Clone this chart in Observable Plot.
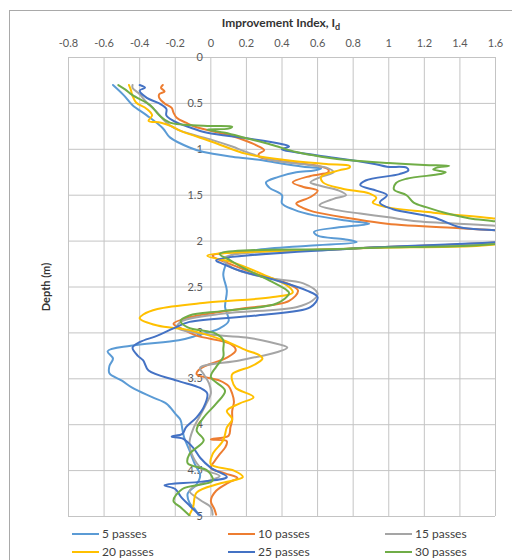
<!DOCTYPE html>
<html><head><meta charset="utf-8">
<script src="https://cdn.jsdelivr.net/npm/d3@7"></script>
<script src="https://cdn.jsdelivr.net/npm/@observablehq/plot@0.6"></script>
<style>
body{margin:0;background:#fff;font-family:Lato,"Open Sans",sans-serif;}
#wrap{position:relative;width:512px;height:560px;overflow:hidden;background:#fff;}
#frame{position:absolute;left:9px;top:10px;width:600px;height:600px;border:1px solid #a9a9a9;box-sizing:border-box;}
#chart{position:absolute;left:0;top:0;}
.leg{position:absolute;font-size:12px;color:#404040;height:14px;line-height:14px;white-space:nowrap;}
.sw{position:absolute;top:6px;width:27px;height:2px;}
</style></head>
<body><div id="wrap"><div id="frame"></div><div id="chart"></div><div id="legend"></div></div>
<script>
const seriesNames = ["5 passes","10 passes","15 passes","20 passes","25 passes","30 passes"];
const seriesColors = ["#5B9BD5","#ED7D31","#A5A5A5","#FFC000","#4472C4","#70AD47"];
const xTicks = [-0.8,-0.6,-0.4,-0.2,0,0.2,0.4,0.6,0.8,1,1.2,1.4,1.6];
const yTicks = [0,0.5,1,1.5,2,2.5,3,3.5,4,4.5,5];

// [depth (m), improvement index]
const pass5 = [[0.30,-0.55],[0.41,-0.49],[0.52,-0.44],[0.63,-0.36],[0.77,-0.27],[0.87,-0.23],[0.98,-0.12],[1.03,-0.04],[1.08,0.12],[1.12,0.29],[1.15,0.38],[1.19,0.52],[1.21,0.62],[1.23,0.58],[1.25,0.48],[1.30,0.38],[1.36,0.31],[1.42,0.33],[1.50,0.40],[1.59,0.40],[1.66,0.47],[1.72,0.58],[1.78,0.78],[1.81,0.89],[1.85,0.72],[1.90,0.58],[1.94,0.60],[1.98,0.75],[2.01,0.82],[2.05,0.55],[2.10,0.25],[2.16,0.11],[2.23,0.09],[2.36,0.07],[2.54,0.09],[2.72,0.08],[2.87,0.10],[2.95,0.05],[3.03,-0.08],[3.08,-0.18],[3.14,-0.45],[3.20,-0.58],[3.28,-0.55],[3.36,-0.57],[3.44,-0.57],[3.52,-0.50],[3.60,-0.44],[3.70,-0.33],[3.77,-0.25],[3.88,-0.20],[3.95,-0.17],[4.05,-0.16],[4.14,-0.15],[4.28,-0.12],[4.43,-0.09],[4.55,-0.06],[4.65,-0.08],[4.75,-0.13],[4.85,-0.12],[4.92,-0.09],[4.98,-0.07]];
const pass10 = [[0.30,-0.27],[0.33,-0.28],[0.37,-0.26],[0.40,-0.29],[0.44,-0.29],[0.50,-0.26],[0.55,-0.22],[0.60,-0.21],[0.66,-0.19],[0.71,-0.14],[0.76,-0.08],[0.85,0.11],[0.91,0.20],[0.96,0.26],[1.01,0.30],[1.05,0.27],[1.08,0.27],[1.13,0.40],[1.18,0.60],[1.22,0.66],[1.25,0.66],[1.29,0.56],[1.36,0.46],[1.41,0.52],[1.45,0.60],[1.52,0.56],[1.59,0.48],[1.64,0.52],[1.69,0.60],[1.75,0.78],[1.81,0.99],[1.86,1.40],[1.88,1.58],[1.92,1.90],[1.99,1.75],[2.08,0.80],[2.16,0.01],[2.25,0.11],[2.36,0.26],[2.46,0.43],[2.54,0.49],[2.65,0.44],[2.74,0.16],[2.83,-0.12],[2.90,-0.21],[2.96,-0.16],[3.03,-0.08],[3.12,0.11],[3.19,0.14],[3.27,0.09],[3.39,-0.06],[3.45,-0.08],[3.52,0.05],[3.58,0.10],[3.66,0.12],[3.75,0.13],[3.85,0.12],[3.95,0.12],[4.03,0.11],[4.12,0.10],[4.16,0.00],[4.18,0.09],[4.25,0.08],[4.32,0.05],[4.40,0.02],[4.47,0.00],[4.53,0.08],[4.58,0.15],[4.63,0.10],[4.72,0.03],[4.83,0.00],[4.92,0.02],[4.98,0.03]];
const pass15 = [[0.30,-0.44],[0.33,-0.44],[0.40,-0.40],[0.49,-0.36],[0.60,-0.30],[0.67,-0.27],[0.74,-0.23],[0.80,-0.17],[0.90,0.01],[0.97,0.12],[1.03,0.20],[1.12,0.35],[1.17,0.55],[1.20,0.65],[1.25,0.69],[1.30,0.62],[1.36,0.56],[1.40,0.62],[1.45,0.72],[1.50,0.76],[1.54,0.69],[1.61,0.61],[1.66,0.70],[1.70,0.84],[1.74,1.00],[1.78,1.14],[1.83,1.58],[1.88,1.90],[1.99,1.75],[2.08,0.80],[2.19,0.07],[2.29,0.12],[2.40,0.31],[2.46,0.52],[2.57,0.60],[2.65,0.57],[2.72,0.48],[2.79,0.07],[2.87,-0.16],[2.94,-0.19],[3.01,-0.05],[3.05,0.20],[3.10,0.33],[3.16,0.43],[3.21,0.37],[3.30,0.16],[3.38,-0.06],[3.45,-0.04],[3.55,-0.01],[3.66,0.00],[3.75,-0.02],[3.90,-0.06],[4.05,-0.10],[4.20,-0.12],[4.35,-0.10],[4.48,-0.05],[4.56,0.05],[4.63,-0.04],[4.72,-0.12],[4.82,-0.06],[4.90,0.00],[4.98,0.01]];
const pass20 = [[0.30,-0.46],[0.35,-0.45],[0.42,-0.44],[0.49,-0.42],[0.56,-0.36],[0.63,-0.33],[0.69,-0.35],[0.71,-0.28],[0.75,-0.22],[0.80,-0.17],[0.92,0.01],[1.05,0.20],[1.12,0.43],[1.16,0.65],[1.18,0.78],[1.20,0.78],[1.23,0.72],[1.30,0.62],[1.36,0.63],[1.43,0.74],[1.48,0.89],[1.53,0.93],[1.58,0.91],[1.63,0.99],[1.69,1.25],[1.75,1.58],[1.82,1.90],[1.99,1.75],[2.08,0.80],[2.16,-0.02],[2.23,0.12],[2.36,0.29],[2.50,0.44],[2.56,0.46],[2.61,0.35],[2.67,-0.02],[2.74,-0.30],[2.80,-0.38],[2.84,-0.40],[2.92,-0.30],[2.97,-0.12],[3.08,0.07],[3.19,0.20],[3.24,0.27],[3.28,0.29],[3.33,0.26],[3.37,0.22],[3.45,0.12],[3.52,0.12],[3.60,0.14],[3.70,0.24],[3.77,0.16],[3.85,0.09],[3.94,0.12],[4.03,0.09],[4.17,0.07],[4.32,0.01],[4.43,0.00],[4.50,0.13],[4.57,0.18],[4.64,0.05],[4.74,-0.08],[4.90,-0.10],[4.98,-0.12]];
const pass25 = [[0.30,-0.40],[0.33,-0.37],[0.36,-0.40],[0.44,-0.36],[0.50,-0.29],[0.56,-0.25],[0.63,-0.25],[0.69,-0.21],[0.76,-0.12],[0.82,-0.02],[0.88,0.20],[0.94,0.39],[0.97,0.44],[1.00,0.40],[1.03,0.47],[1.10,0.72],[1.16,0.92],[1.19,0.99],[1.20,1.10],[1.23,1.11],[1.27,1.06],[1.34,0.87],[1.39,0.84],[1.45,0.93],[1.50,0.99],[1.58,0.95],[1.65,1.02],[1.74,1.25],[1.85,1.40],[1.88,1.58],[1.93,1.90],[1.99,1.75],[2.08,0.80],[2.21,0.03],[2.25,0.07],[2.32,0.16],[2.43,0.37],[2.54,0.54],[2.61,0.60],[2.72,0.56],[2.81,0.26],[2.88,-0.12],[2.95,-0.21],[3.03,-0.30],[3.10,-0.40],[3.16,-0.44],[3.25,-0.41],[3.30,-0.38],[3.41,-0.35],[3.52,-0.19],[3.60,-0.06],[3.66,-0.02],[3.81,-0.04],[3.92,-0.08],[4.03,-0.14],[4.10,-0.16],[4.13,-0.22],[4.15,-0.16],[4.25,-0.10],[4.36,-0.06],[4.47,0.00],[4.57,0.09],[4.62,-0.05],[4.66,-0.26],[4.70,-0.20],[4.78,-0.17],[4.88,-0.12],[4.99,-0.06]];
const pass30 = [[0.30,-0.52],[0.35,-0.48],[0.41,-0.44],[0.52,-0.34],[0.63,-0.29],[0.71,-0.23],[0.745,-0.02],[0.755,0.12],[0.775,0.10],[0.785,-0.02],[0.82,0.08],[0.88,0.20],[0.95,0.34],[1.03,0.48],[1.08,0.62],[1.12,0.78],[1.15,1.00],[1.17,1.20],[1.18,1.34],[1.20,1.27],[1.22,1.25],[1.25,1.32],[1.27,1.29],[1.32,1.10],[1.37,1.04],[1.44,1.03],[1.50,1.10],[1.58,1.14],[1.63,1.21],[1.70,1.33],[1.75,1.45],[1.78,1.58],[1.85,1.90],[1.99,1.75],[2.08,0.80],[2.14,0.05],[2.21,0.11],[2.29,0.18],[2.43,0.33],[2.54,0.43],[2.57,0.44],[2.68,0.37],[2.76,0.07],[2.81,-0.12],[2.87,-0.17],[2.94,-0.13],[3.01,0.03],[3.08,0.07],[3.18,0.07],[3.26,0.07],[3.37,0.03],[3.48,0.00],[3.63,0.08],[3.77,0.03],[3.92,-0.04],[4.06,-0.08],[4.17,-0.04],[4.32,-0.12],[4.42,-0.13],[4.50,-0.02],[4.61,0.01],[4.70,-0.16],[4.83,-0.21],[4.90,-0.17],[4.99,-0.12]];
const seriesData = [pass5,pass10,pass15,pass20,pass25,pass30];

const lineMarks = seriesData.map((arr,i) => Plot.line(arr.map(([d,v]) => ({depth:d, index:v})), {
  x:"index", y:"depth", stroke: seriesColors[i], strokeWidth: 2, clip: true, curve: "catmull-rom"
}));

const plot = Plot.plot({
  width: 512, height: 524,
  marginLeft: 68, marginRight: 17, marginTop: 57, marginBottom: 8,
  style: {fontFamily: "Lato, 'Open Sans', sans-serif", background: "transparent"},
  x: {domain: [-0.8, 1.6], axis: null},
  y: {domain: [0, 5], reverse: true, axis: null},
  marks: [
    Plot.gridX(xTicks, {stroke: "#c4c4c4", strokeOpacity: 1}),
    Plot.gridY(yTicks, {stroke: "#c4c4c4", strokeOpacity: 1}),
    Plot.axisX(xTicks, {anchor: "top", tickSize: 0, tickPadding: 11, tickFormat: d => String(d), fontSize: 11, fill: "#595959", label: null}),
    Plot.text(yTicks, {x: () => 0, y: d => d, text: d => String(d), textAnchor: "end", dx: -8, fontSize: 11, fill: "#595959"}),
    ...lineMarks
  ]
});
document.getElementById("chart").appendChild(plot);

const svg = d3.select(plot);
const t = svg.append("text").attr("x", 281).attr("y", 27).attr("text-anchor", "middle")
  .attr("font-weight", "bold").attr("font-size", 12).attr("fill", "#333");
t.append("tspan").text("Improvement Index, I");
t.append("tspan").attr("font-size", 9).attr("dy", 3).text("d");
svg.append("text").attr("transform", "translate(50,287) rotate(-90)").attr("text-anchor", "middle")
  .attr("font-weight", "bold").attr("font-size", 11).attr("fill", "#333").text("Depth (m)");

const legX = [72, 228, 385];
const legY = [527, 545];
const leg = document.getElementById("legend");
seriesNames.forEach((name, i) => {
  const col = i % 3, row = Math.floor(i / 3);
  const div = document.createElement("div");
  div.className = "leg";
  div.style.left = legX[col] + "px";
  div.style.top = legY[row] + "px";
  div.style.paddingLeft = "30px";
  const sw = document.createElement("span");
  sw.className = "sw";
  sw.style.left = "0px";
  sw.style.background = seriesColors[i];
  div.appendChild(sw);
  div.appendChild(document.createTextNode(name));
  leg.appendChild(div);
});
</script>
</body></html>
